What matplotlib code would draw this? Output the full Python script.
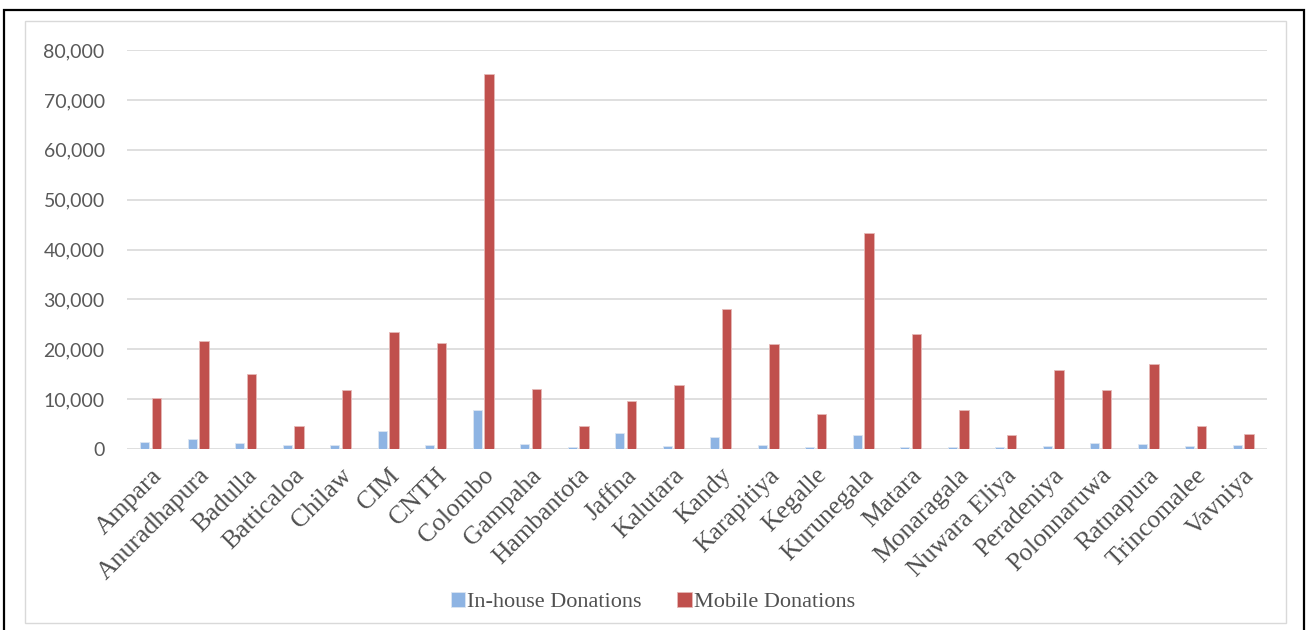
import numpy as np
import matplotlib
matplotlib.use("Agg")
import matplotlib.pyplot as plt
from matplotlib.patches import Rectangle
from matplotlib.ticker import FuncFormatter

# data
centres = ["Ampara", "Anuradhapura", "Badulla", "Batticaloa", "Chilaw", "CIM", "CNTH",
           "Colombo", "Gampaha", "Hambantota", "Jaffna", "Kalutara", "Kandy", "Karapitiya",
           "Kegalle", "Kurunegala", "Matara", "Monaragala", "Nuwara Eliya", "Peradeniya",
           "Polonnaruwa", "Ratnapura", "Trincomalee", "Vavniya"]
inhouse = [1500, 1950, 1150, 800, 800, 3600, 800, 7800, 1000, 330, 3200, 600,
           2350, 870, 400, 2800, 330, 330, 330, 540, 1200, 940, 600, 800]
mobile = [10200, 21700, 15000, 4600, 11900, 23400, 21300, 75200, 12100, 4700, 9600, 12900,
          28100, 21100, 7000, 43300, 23000, 7900, 2750, 15800, 11800, 17000, 4600, 2950]

fig = plt.figure(figsize=(13.06, 6.3), dpi=100)
ax = fig.add_axes([0.0972, 0.2873, 0.8728, 0.6333])

x = np.arange(len(centres))
w = 0.195
ax.bar(x - 0.123, inhouse, w, color="#8EB4E3", edgecolor="#DCE6F2", linewidth=0.6,
       label="In-house Donations", zorder=3)
ax.bar(x + 0.123, mobile, w, color="#C0504D", edgecolor="#E6B9B8", linewidth=0.6,
       label="Mobile Donations", zorder=3)

ax.set_xlim(-0.5, len(centres) - 0.5)
ax.set_ylim(0, 80000)
ax.set_yticks(np.arange(0, 80001, 10000))
ax.yaxis.set_major_formatter(FuncFormatter(lambda v, p: f"{int(v):,}"))
ax.grid(axis="y", color="#D9D9D9", linewidth=1.2, zorder=0)
for s in ax.spines.values():
    s.set_visible(False)
ax.tick_params(length=0)
ax.tick_params(axis="y", pad=16, labelsize=14, labelcolor="#595959")
for t in ax.get_yticklabels():
    t.set_family("Lato")

ax.set_xticks(x)
ax.set_xticklabels(centres, rotation=45, ha="right", rotation_mode="anchor",
                   family="Liberation Serif", fontsize=18.5, color="#505050")
ax.tick_params(axis="x", pad=11)

leg = fig.legend(loc="center", bbox_to_anchor=(0.5, 0.044), ncol=2, frameon=False,
                 prop={"family": "Liberation Serif", "size": 16},
                 handlelength=0.65, handleheight=0.65, handletextpad=0.1, columnspacing=1.6)
for t in leg.get_texts():
    t.set_color("#505050")

# outer frame and chart area border
fig.patches.append(Rectangle((4 / 1306, -0.05), 1300 / 1306, 1 - 10 / 630 + 0.05,
                             transform=fig.transFigure, fill=False, edgecolor="black",
                             linewidth=1.6))
fig.patches.append(Rectangle((25 / 1306, 1 - 623 / 630), 1261 / 1306, (623 - 21) / 630,
                             transform=fig.transFigure, fill=False, edgecolor="#D9D9D9",
                             linewidth=1))

fig.savefig("out.png", dpi=100)
